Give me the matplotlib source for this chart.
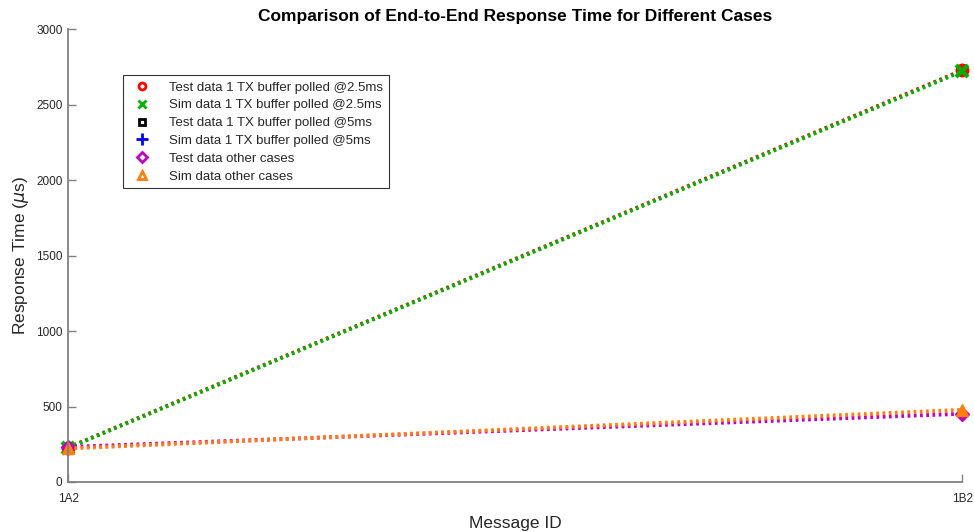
import matplotlib
matplotlib.use("Agg")
import matplotlib.pyplot as plt
from matplotlib.lines import Line2D

plt.rcParams['font.family'] = ['Liberation Sans', 'DejaVu Sans']

msg_ids = ["1A2", "1B2"]
x = [0, 1]
test_25 = [228, 2728]
sim_25 = [226, 2722]
test_5 = []
sim_5 = []
test_other = [232, 452]
sim_other = [222, 478]

labels = ["Test data 1 TX buffer polled @2.5ms",
          "Sim data 1 TX buffer polled @2.5ms",
          "Test data 1 TX buffer polled @5ms",
          "Sim data 1 TX buffer polled @5ms",
          "Test data other cases",
          "Sim data other cases"]

fig = plt.figure(figsize=(9.74, 5.32), dpi=100)
ax = fig.add_axes([0.07, 0.094, 0.918, 0.851])

lw = 2.8
dots = (0, (0.7, 0.9))
ax.plot(x, test_25, color='#ff0000', ls=dots, lw=lw, marker='o', ms=9,
        mfc='#ff0000', mec='#ff0000', clip_on=False)
ax.plot(x, sim_25, color='#00b000', ls=dots, lw=lw, marker='x', ms=9, mew=3,
        clip_on=False)
ax.plot(x[:len(test_5)], test_5, color='black', ls=dots, lw=lw, marker='s')
ax.plot(x[:len(sim_5)], sim_5, color='blue', ls=dots, lw=lw, marker='+')
ax.plot(x, test_other, color='#bf00bf', ls=dots, lw=lw, marker='D', ms=7,
        mfc='#bf00bf', mec='#bf00bf', clip_on=False)
ax.plot(x, sim_other, color='#ff7f0e', ls=dots, lw=lw, marker='^', ms=9,
        mfc='#ff7f0e', mec='#ff7f0e', clip_on=False)

ax.set_xlim(0, 1)
ax.set_ylim(0, 3000)
ax.set_xticks(x)
ax.set_xticklabels(msg_ids)
ax.set_yticks(range(0, 3001, 500))

for s in ['top', 'right']:
    ax.spines[s].set_visible(False)
for s in ['left', 'bottom']:
    ax.spines[s].set_color('#808080')
    ax.spines[s].set_linewidth(1.3)
ax.tick_params(direction='in', length=6, width=1, color='#808080',
               labelsize=8.5, labelcolor='#262626')
ax.tick_params(axis='x', pad=8)
ax.tick_params(axis='y', pad=4)

ax.set_title("Comparison of End-to-End Response Time for Different Cases",
             fontsize=12.5, fontweight='bold', color='black', pad=6)
ax.set_xlabel("Message ID", fontsize=12.5, color='#262626', labelpad=8)
ax.set_ylabel(r"Response Time ($\mu$s)", fontsize=12.5, color='#262626', labelpad=4)

handles = [
    Line2D([], [], ls='none', marker='o', ms=5, mfc='none', mec='#ff0000', mew=2),
    Line2D([], [], ls='none', marker='x', ms=6, mec='#00b000', mew=2),
    Line2D([], [], ls='none', marker='s', ms=5, mfc='none', mec='black', mew=2),
    Line2D([], [], ls='none', marker='+', ms=8, mec='#0000ff', mew=2),
    Line2D([], [], ls='none', marker='D', ms=5, mfc='none', mec='#bf00bf', mew=2),
    Line2D([], [], ls='none', marker='^', ms=6, mfc='none', mec='#ff7f0e', mew=2),
]
leg = ax.legend(handles, labels, loc='upper left', bbox_to_anchor=(0.0615, 0.898),
                fontsize=9.5, frameon=True, fancybox=False, edgecolor='black',
                handlelength=2.0, handletextpad=1.0, labelspacing=0.42,
                borderpad=0.45, borderaxespad=0)
leg.get_frame().set_linewidth(0.8)
for t in leg.get_texts():
    t.set_color('#262626')

fig.savefig("out.png", dpi=100)
